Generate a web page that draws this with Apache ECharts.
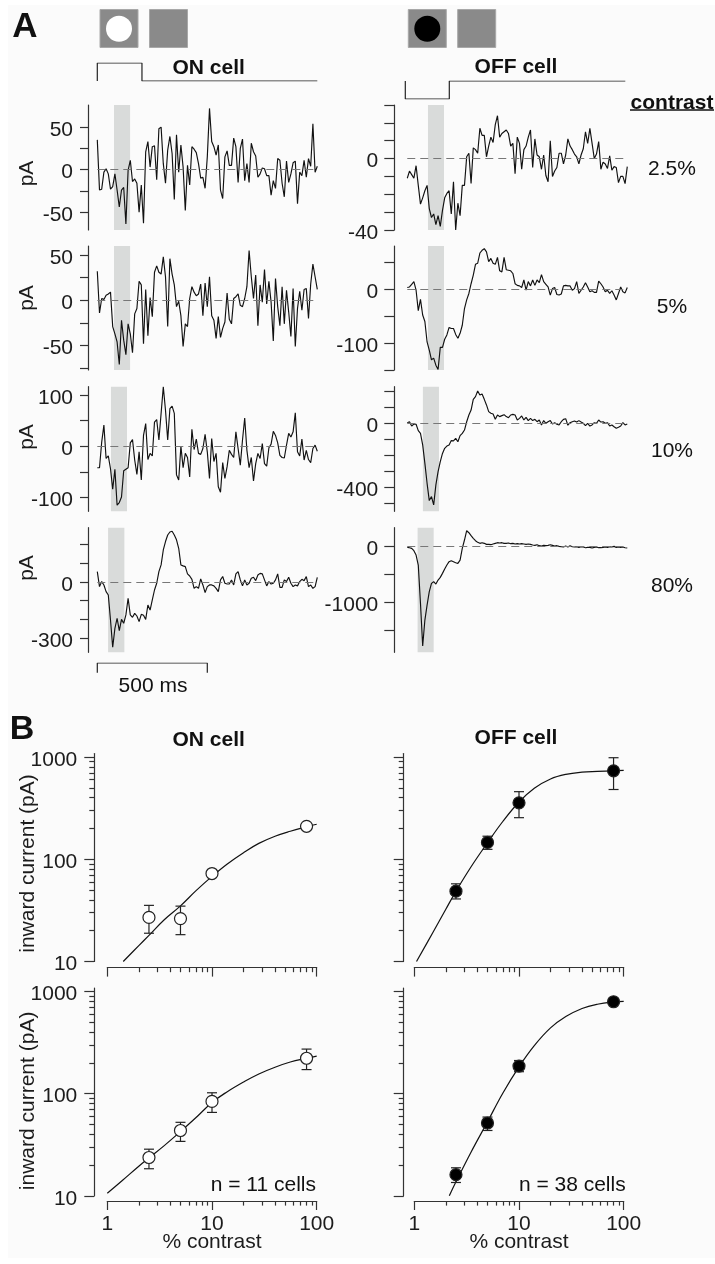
<!DOCTYPE html>
<html><head><meta charset="utf-8">
<style>html,body{margin:0;padding:0;background:#fff}#c{width:715px;height:1264px}</style>
<script src="https://cdn.jsdelivr.net/npm/echarts@6/dist/echarts.min.js"></script>
</head><body><div id="c"></div>
<script>
const onTrace2p5=[35,-24,-23,-3,1,-5,-23,-20,-5,-24,-44,-24,-21,-64,-1,11,-14,-11,-16,-50,-18,-63,21,33,3,27,28,-12,48,50,7,-16,23,39,19,-35,41,-3,29,3,-48,5,-18,27,24,20,7,-10,-9,-22,15,72,33,27,17,29,-24,-34,15,22,5,5,37,27,-15,25,36,-13,7,-15,31,21,16,-9,-5,2,1,-7,-7,-30,-13,-22,13,11,-16,-32,10,-15,-5,8,10,-40,-3,-7,11,-9,13,4,54,-3,4];
const onTrace5=[32,-14,2,1,5.5,7,9,-29,-37,-46,-71,-22,-44,-60,-26,-37,-58,-15,-9,21,17,-48,12,-39,3,-18,31,38,31,29,48,26,-29,46,29,17,-7,-1,-17,-51,-26,-29,2,15,9,5,7,18,-17,19,-7,26,-17,-22,-42,-18,-41,-31,-24,8,-21,-26,2,4,7,-5.5,-7,2,15,55,26,2,28,-28,17,-2,34,-4,21,-2,-45,24,-7,-28,15,-26,11,-13,-40,13,-51,-9,10,-11,12,13,-20,18,40,26,12];
const onTrace10=[-42,-42,8,41,-24,-19,-44,-84,-45,-115,-110,-99,-48,-45,-42,6.5,13,-27,-55,-11,-66,21,44,-26,-14,-19,47,52,12,64,116,70,12,73,78,64,-56,-66,0,-42,-14,-22,-60,33,-6.5,14,-14,-16,-4.5,23,-11,-63,15,-30,-14,-79,-90,-32,-63,-40,-8,-16,-22,28,-4.5,-37,12,55,-8,-42,-22,-68,-34,-14,-24,5,-34,-39,-3,4,29,21,6.5,-18,-22,-23,2,25,18,28,65,-11,-19,14,-27,-8,-26,-32,-4.5,2,-10];
const onTrace80=[55,-25,2,-16,-52,-70,-203,-349,-248,-194,-260,-200,-221,-176,-87,-176,-189,-168,-182,-212,-173,-178,-200,-123,-150,-96,-43,-7,55,91,171,216,251,267,271,251,225,180,91,86,82,43,32,14,-34,-25,-34,16,-16,-57,-25,-16,-16,-21,-34,-52,11,29,-7,-11,-11,11,-16,43,55,11,-21,11,-16,-7,20,25,7,37,46,43,11,-21,2,-11,-7,11,43,-29,-29,11,2,25,-7,-25,-16,-21,2,14,7,29,-25,-16,-34,-25,25];
const offTrace2p5=[-11,-7,-9,-11,-4,-15,-25.5,-22,-18,-15,-28,-33,-31,-37,-32,-38,-29,-22,-19.5,-18,-31,-13,-40,-25,-32,-15,-15,1,3,-14,6,5,3,17,13,13,1,7,12,9,19,24,12,14,15,16,14,7,8.5,-8.5,12,8.5,-6,5,7,12,16,-5,11,2,1,-6,2,-9.5,-13,10,-10,-7,-5,3,3,-3,2,11,7,5,2.5,1,-3,2,5.5,15,8.5,17,8.5,0,2.5,9.5,-6,-2,-3,-5.5,1.5,-6.5,-4.5,-5,-13.5,-10,-10,-14,-4.5];
const offTrace5=[3,4,9,14,-2,-40,-19,-48,-60,-98,-113,-131,-128,-141,-149,-108,-108,-93,-85,-71,-73,-73,-84,-91,-82,-67,-36,-20,-8,10,26,46,48,67,72,75,69,51,57,48,46,59,34,32,59,36,35,34,29,10,7,6,3,17,-2,14,6,17,7,17,12,27,14,9,4,-11,1,3,-10,-11,-9,6,7,6,6,-2,1,14,-8,-2,4,12,4,-5,-3,-6,-6,15,10,4,-5,-2,-8,-3,-11,-20,-8,4,-5,-7,3];
const offTrace10=[4,10,-17,-4,-6,-46,-63,-135,-250,-375,-483,-458,-510,-385,-302,-240,-188,-156,-142,-135,-108,-110,-94,-115,-77,-63,-42,10,52,83,150,167,202,177,183,150,115,73,63,58,25,52,42,48,54,42,35,52,56,52,21,31,46,21,37,17,31,17,25,10,21,-10,17,0,10,17,-4,4,-6,-10,10,25,29,-12,4,10,15,8,17,8,0,-15,0,-17,-10,4,0,21,8,10,0,4,-17,-10,-21,-31,-25,-17,4,-10,-4];
const offTrace80=[-12,-18,-30,-72,-150,-329,-1018,-1784,-1317,-1048,-808,-659,-629,-671,-599,-551,-479,-401,-329,-269,-251,-269,-287,-299,-240,-30,120,287,251,198,150,108,78,60,72,60,42,42,36,48,60,72,66,72,60,60,66,54,60,48,54,48,54,48,42,48,42,30,24,36,18,12,24,18,24,36,24,12,18,6,0,-6,12,-6,18,0,-6,0,-12,0,-6,-18,-12,-12,-24,-12,-6,-18,-18,-12,-6,-12,0,-6,6,-12,-6,-12,-6,-18,-24];

const contrastPts=[2.5,5,10,80];
const bOnTopMean=[27,26.3,72.5,210], bOnTopHi=[35.4,34.8,77,222], bOnTopLo=[18.9,18.3,68,198];
const bOffTopMean=[48.7,146,356,733], bOffTopHi=[57.5,168,458,984], bOffTopLo=[40.9,125,255,481];
const bOnBotMean=[23.7,43.6,84,222], bOnBotHi=[28.6,52.4,102,273], bOnBotLo=[18.4,34.1,65.5,172];
const bOffBotMean=[16.1,51.6,186,794], bOffBotHi=[18.8,59,211,830], bOffBotLo=[13.5,43.6,164,760];

const fitX=[1.42,2,2.5,3.5,5,7,10,14,20,28,40,56,80,100];
const fitOnTop=[10,14.3,18,25.6,35,49,68,90,116,143,168,188,208,220];
const fitOnBotX=[1,1.4,2,2.5,3.5,5,7,10,14,20,28,40,56,80,100];
const fitOnBot=[10.6,14.2,19.5,23.5,31,42.5,58,82,104.5,130,156,181.5,204,222,233];
const fitOffTopX=[1.05,1.5,2,2.5,3.5,5,7,10,14,20,28,40,56,80,100];
const fitOffTop=[10,19.1,32.4,48.7,85,145,234,363,495,610,676,710,722,733,739];
const fitOffBotX=[2.16,2.5,3.5,5,7,10,14,20,28,40,56,80,100];
const fitOffBot=[10,13.7,27,53,101,183,295,440,568,682,750,790,800];

const stimOnX=[0,0,203,203,1000], stimOnY=[0,1,1,0,0];
const stimOffX=[0,0,200,200,1000], stimOffY=[0,-1,-1,0,0];
const scaleX=[0,0,500,500], scaleY=[0,1,1,0];

const FONT='"Liberation Sans",Arial,sans-serif', INK='#1c1c1c', AX='#333333', FS=21;
const MS_PX=0.22, XSPAN=1010;
const grids=[],xAxes=[],yAxes=[],series=[];
const shiftedLabel={a:{padding:[6,0,0,0],fontSize:FS,fontFamily:FONT,color:INK}};
function addGrid(left,top,width,height){grids.push({left,top,width,height});return grids.length-1;}
function hiddenX(g,min,max){xAxes.push({type:'value',gridIndex:g,min,max,show:false});return xAxes.length-1;}

function tracePanel(o){
  const g=addGrid(o.left,o.top,XSPAN*MS_PX,o.h);
  const xi=hiddenX(g,0,XSPAN);
  const yi=yAxes.length;
  const y={type:'value',gridIndex:g,min:o.min,max:o.max,offset:o.offset,
    splitLine:{show:false},
    axisLine:{show:true,onZero:false,lineStyle:{color:AX,width:1.2}},
    axisTick:{show:true,length:o.tick,customValues:o.ticks,lineStyle:{color:AX,width:1.2}},
    axisLabel:{show:true,customValues:o.labels,margin:o.margin,fontSize:FS,fontFamily:FONT,color:INK,rich:shiftedLabel,formatter:v=>'{a|'+v+'}'}};
  if(o.nameShift!==undefined){
    y.name='pA';y.nameLocation='middle';y.nameRotate=90;y.nameGap=50;y.nameMoveOverlap=false;
    y.nameTextStyle={fontSize:FS,fontFamily:FONT,color:INK,padding:o.nameShift>0?[0,o.nameShift*2,0,0]:[0,0,0,-o.nameShift*2]};
  }
  yAxes.push(y);
  series.push({type:'line',xAxisIndex:xi,yAxisIndex:yi,showSymbol:false,symbol:'none',silent:true,
    data:o.data.map((v,i)=>[o.t0+i*10,v]),lineStyle:{color:'#111',width:1.15},z:4,
    markArea:{silent:true,itemStyle:{color:'#d9dbda',opacity:1},label:{show:false},data:[[{xAxis:o.band[0]},{xAxis:o.band[1]}]]},
    markLine:{silent:true,symbol:'none',animation:false,label:{show:false},lineStyle:{color:'#777',type:[8,5],width:1},
      data:[[{coord:[o.t0,0]},{coord:[o.t0+1000,0]}]]}});
}
const L=97.3,R=405.3;
const rows=[{top:105,h:125},{top:246,h:124},{top:386.7,h:124.6},{top:527.7,h:124.6}];
const common={L:{left:L,offset:9.3,tick:8,margin:15,t0:0},R:{left:R,offset:11,tick:10,margin:16,t0:9}};
tracePanel({...common.L,...rows[0],data:onTrace2p5,min:-71,max:76,ticks:[-50,-25,0,25,50],labels:[-50,0,50],band:[76,149],nameShift:6});
tracePanel({...common.L,...rows[1],data:onTrace5,min:-77,max:60,ticks:[-75,-50,-25,0,25,50],labels:[-50,0,50],band:[76,149],nameShift:-10});
tracePanel({...common.L,...rows[2],data:onTrace10,min:-127,max:116,ticks:[-100,-50,0,50,100],labels:[-100,0,100],band:[62,135],nameShift:-12});
tracePanel({...common.L,...rows[3],data:onTrace80,min:-376,max:290,ticks:[-300,-200,-100,0,100,200],labels:[-300,0],band:[49,123],nameShift:-22});
tracePanel({...common.R,...rows[0],data:offTrace2p5,min:-40,max:30,ticks:[-40,-30,-20,-10,0,10,20,30],labels:[-40,0],band:[103,176]});
tracePanel({...common.R,...rows[1],data:offTrace5,min:-150,max:80,ticks:[-150,-100,-50,0,50],labels:[-100,0],band:[103,176]});
tracePanel({...common.R,...rows[2],data:offTrace10,min:-550,max:229,ticks:[-500,-400,-300,-200,-100,0,100,200],labels:[-400,0],band:[80,153]});
tracePanel({...common.R,...rows[3],data:offTrace80,min:-1896,max:341,ticks:[-1500,-1000,-500,0],labels:[-1000,0],band:[56,129]});

function hairline(left,top,h,xs,ys,ymin,ymax){
  const g=addGrid(left,top,XSPAN*MS_PX,h);
  const xi=hiddenX(g,0,XSPAN);
  yAxes.push({type:'value',gridIndex:g,min:ymin,max:ymax,show:false});
  series.push({type:'line',xAxisIndex:xi,yAxisIndex:yAxes.length-1,symbol:'none',silent:true,
    data:xs.map((x,i)=>[x,ys[i]]),lineStyle:{color:'#222',width:1.2}});
}
hairline(L,63,18,stimOnX,stimOnY,0,1);
hairline(R,81,18,stimOffX,stimOffY,-1,0);
hairline(L,663,9.7,scaleX,scaleY,0,1);

const minorsX=[2,3,4,5,6,7,8,9,20,30,40,50,60,70,80,90];
const minorsY=[20,30,40,50,60,70,80,90,200,300,400,500,600,700,800,900];
function logPanel(o){
  const g=addGrid(o.left,o.top,209.4,o.h);
  const x0=xAxes.length;
  const ax=(lenTick,vals,labelShow,line)=>({type:'log',logBase:10,gridIndex:g,min:1,max:100,position:'bottom',offset:o.xOffset,
    splitLine:{show:false},minorTick:{show:false},
    axisLine:{show:line,onZero:false,lineStyle:{color:AX,width:1.2}},
    axisTick:{show:true,length:lenTick,customValues:vals,lineStyle:{color:AX,width:1.2}},
    axisLabel:{show:labelShow,customValues:[1,10,100],margin:13,fontSize:FS,fontFamily:FONT,color:INK,formatter:v=>String(Math.round(v))}});
  const x=ax(9,[1,10,100],o.xLabels,true);
  if(o.xLabels){x.name='% contrast';x.nameLocation='middle';x.nameGap=31;x.nameMoveOverlap=false;x.nameTextStyle={fontSize:FS,fontFamily:FONT,color:INK};}
  xAxes.push(x,ax(4.6,minorsX,false,false));
  const y0=yAxes.length;
  const ay=(lenTick,vals,labelShow,line)=>({type:'log',logBase:10,gridIndex:g,min:10,max:1082,position:'left',offset:o.yOffset,
    splitLine:{show:false},minorTick:{show:false},
    axisLine:{show:line,onZero:false,lineStyle:{color:AX,width:1.2}},
    axisTick:{show:true,length:lenTick,customValues:vals,lineStyle:{color:AX,width:1.2}},
    axisLabel:{show:labelShow,customValues:[10,100,1000],margin:17,fontSize:FS,fontFamily:FONT,color:INK,rich:shiftedLabel,formatter:v=>'{a|'+Math.round(v)+'}'}});
  const y=ay(10,[10,100,1000],o.yLabels,true);
  if(o.yLabels){y.name='inward current (pA)';y.nameLocation='middle';y.nameRotate=90;y.nameGap=56;y.nameMoveOverlap=false;
    y.nameTextStyle={fontSize:FS,fontFamily:FONT,color:INK,padding:[0,o.nameDown*2,0,0]};}
  yAxes.push(y,ay(5,minorsY,false,false));
  const refs={xAxisIndex:x0,yAxisIndex:y0,silent:true};
  series.push({...refs,type:'line',symbol:'none',data:o.fitX.map((v,i)=>[v,o.fit[i]]),smooth:0.4,lineStyle:{color:'#111',width:1.2},z:3});
  series.push({...refs,type:'custom',z:4,data:contrastPts.map((v,i)=>[v,o.lo[i],o.hi[i]]),
    renderItem(p,api){
      const a=api.coord([api.value(0),api.value(1)]),b=api.coord([api.value(0),api.value(2)]);
      const st={stroke:'#222',lineWidth:1.2,fill:null};
      const seg=(x1,y1,x2,y2)=>({type:'line',shape:{x1,y1,x2,y2},style:st});
      return {type:'group',children:[seg(a[0],a[1],b[0],b[1]),seg(a[0]-5,a[1],a[0]+5,a[1]),seg(b[0]-5,b[1],b[0]+5,b[1])]};
    }});
  series.push({...refs,type:'scatter',z:5,symbol:'circle',symbolSize:12,data:contrastPts.map((v,i)=>[v,o.mean[i]]),
    itemStyle:{color:o.fill,borderColor:'#222',borderWidth:1.2,opacity:1}});
}
const bTop={top:753.5,h:208,xOffset:6.1},bBot={top:988,h:207.8,xOffset:5.2};
logPanel({...bTop,left:107.3,yOffset:13,yLabels:true,xLabels:false,nameDown:6,fill:'#fff',mean:bOnTopMean,hi:bOnTopHi,lo:bOnTopLo,fitX:fitX,fit:fitOnTop});
logPanel({...bBot,left:107.3,yOffset:13,yLabels:true,xLabels:true,nameDown:9,fill:'#fff',mean:bOnBotMean,hi:bOnBotHi,lo:bOnBotLo,fitX:fitOnBotX,fit:fitOnBot});
logPanel({...bTop,left:414.3,yOffset:10.6,yLabels:false,xLabels:false,fill:'#000',mean:bOffTopMean,hi:bOffTopHi,lo:bOffTopLo,fitX:fitOffTopX,fit:fitOffTop});
logPanel({...bBot,left:414.3,yOffset:10.6,yLabels:false,xLabels:true,fill:'#000',mean:bOffBotMean,hi:bOffBotHi,lo:bOffBotLo,fitX:fitOffBotX,fit:fitOffBot});

function txt(text,x,y,opt={}){return {type:'text',x,y:y+1,z:10,silent:true,style:{text,fontFamily:FONT,fontSize:opt.size||FS,fontWeight:opt.bold?'bold':'normal',fill:'#111',align:opt.align||'center',verticalAlign:'middle'}};}
function sq(x,y){return {type:'rect',z:1,silent:true,shape:{x,y,width:38,height:38},style:{fill:'#8a8a8a',stroke:'#a8a8a8',lineWidth:1}};}
function dot(x,y,c){return {type:'circle',z:2,silent:true,shape:{cx:x,cy:y,r:13},style:{fill:c}};}
const graphics=[
 {type:'rect',z:-10,silent:true,shape:{x:8,y:5,width:707,height:1253},style:{fill:'#fbfbfb'}},
 sq(100,9.5),dot(119,28.7,'#fff'),sq(149.5,9.5),
 sq(408.3,9.5),dot(427.3,28.7,'#000'),sq(457.7,9.5),
 txt('A',25,26,{size:35,bold:true}),txt('B',22,729,{size:34,bold:true}),
 txt('ON cell',208.7,67,{bold:true}),txt('OFF cell',516,66,{bold:true}),
 txt('contrast',672,102,{bold:true}),
 {type:'line',z:10,silent:true,shape:{x1:630,y1:110,x2:714,y2:110},style:{stroke:'#111',lineWidth:1.3}},
 txt('2.5%',672,168),txt('5%',672,306),txt('10%',672,450),txt('80%',672,585),
 txt('500 ms',153,685),
 txt('ON cell',208.7,739,{bold:true}),txt('OFF cell',516,737.6,{bold:true}),
 txt('n = 11 cells',316,1184.5,{align:'right'}),txt('n = 38 cells',625.7,1184.5,{align:'right'})
];
const chart=echarts.init(document.getElementById('c'),null,{renderer:'canvas',width:715,height:1264});
chart.setOption({animation:false,backgroundColor:'#ffffff',grid:grids,xAxis:xAxes,yAxis:yAxes,series,graphic:{elements:graphics}});
</script></body></html>
